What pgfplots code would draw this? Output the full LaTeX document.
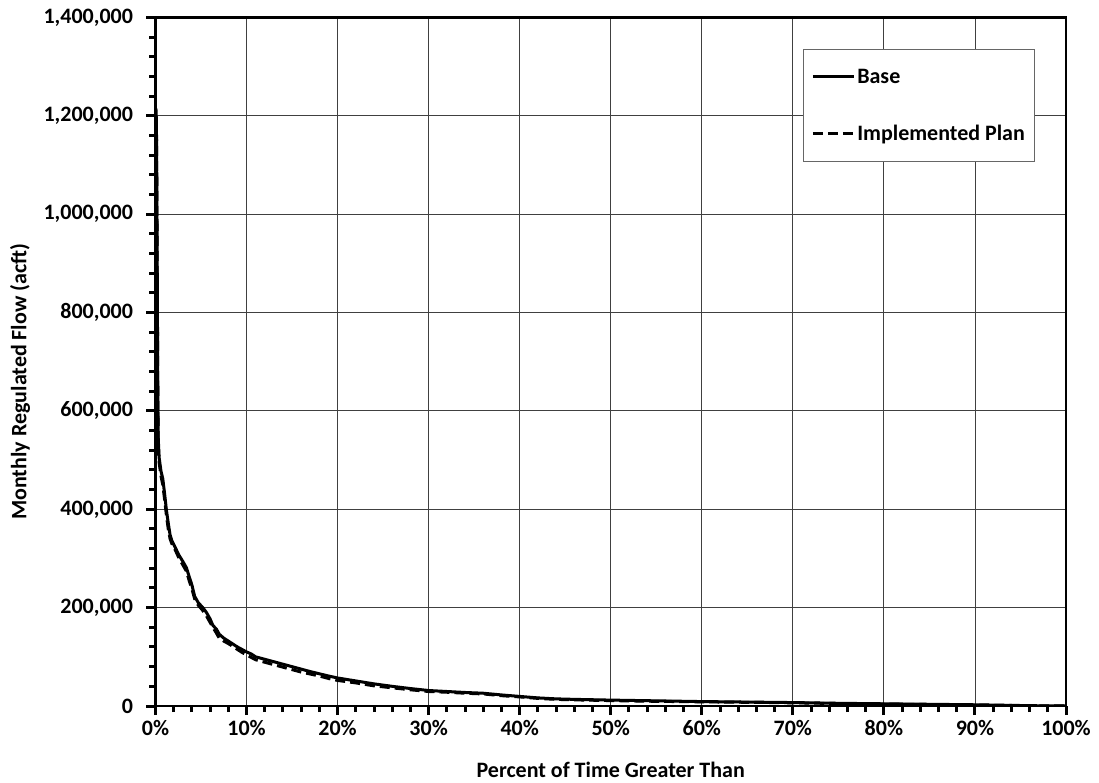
\documentclass[border=0pt]{standalone}
\usepackage{fontspec}
\setmainfont{Carlito}
\usepackage{pgfplots}
\pgfplotsset{compat=1.18}
\pgfplotstableread{
x y
0.05 1215000
0.10 1190000
0.15 1050000
0.20 850000
0.25 650000
0.30 545000
0.40 505000
0.60 478000
0.80 462000
1.00 432000
1.20 398000
1.40 372000
1.60 348000
1.80 336000
2.20 321000
2.60 306000
3.00 294000
3.40 281000
3.70 263000
4.00 246000
4.30 223000
4.70 210000
5.20 200000
5.60 190000
6.00 177000
6.30 164000
6.70 156000
7.00 146000
7.50 138000
8.00 132000
8.50 126000
9.00 120000
9.50 115000
10.0 110000
10.5 106000
11.0 100000
12.0 95000
13.0 90000
14.0 85000
15.0 80000
16.0 75000
17.0 70000
18.0 65500
19.0 61000
20.0 57000
22.0 51000
24.0 45000
26.0 40000
28.0 35500
30.0 31500
32.0 29500
34.0 27500
36.0 26000
38.0 22500
40.0 19500
42.0 16500
44.0 14500
46.0 13500
50.0 12000
55.0 10500
60.0 9000
65.0 8000
70.0 7000
75.0 5500
80.0 4500
85.0 3500
90.0 2500
95.0 1000
98.0 200
100.0 0
}\base
\pgfplotstableread{
x y
0.05 1200000
0.10 1180000
0.15 1040000
0.20 840000
0.25 640000
0.30 530000
0.40 495000
0.60 468000
0.80 450000
1.00 420000
1.20 388000
1.40 360000
1.60 340000
1.80 330000
2.20 316000
2.60 300000
3.00 287000
3.40 274000
3.70 255000
4.00 238000
4.30 218000
4.70 205000
5.20 194000
5.60 183000
6.00 170000
6.30 160000
6.70 148000
7.00 138000
7.50 132000
8.00 127000
8.50 121000
9.00 115000
9.50 109000
10.0 104000
10.5 99000
11.0 94000
12.0 89000
13.0 84000
14.0 79000
15.0 74000
16.0 69000
17.0 65000
18.0 61000
19.0 56000
20.0 52000
22.0 47000
24.0 41000
26.0 37000
28.0 33000
30.0 29500
32.0 28000
34.0 26000
36.0 24500
38.0 21000
40.0 18500
42.0 15500
44.0 13500
46.0 12500
50.0 11000
55.0 9500
60.0 8500
65.0 7500
70.0 6500
75.0 5000
80.0 4000
85.0 3000
90.0 2000
95.0 800
98.0 100
100.0 0
}\plan
\begin{document}
\begin{tikzpicture}
\useasboundingbox (-155.5pt,-76pt) rectangle (943.5pt,706pt);
\begin{axis}[
  at={(0,0)}, anchor=south west,
  scale only axis,
  width=910.5pt, height=688.5pt,
  xmin=0, xmax=100, ymin=0, ymax=1400000,
  xtick={0,10,...,100},
  xticklabels={0\%,10\%,20\%,30\%,40\%,50\%,60\%,70\%,80\%,90\%,100\%},
  ytick={0,200000,...,1400000},
  minor x tick num=4,
  minor y tick num=4,
  xtick pos=bottom, ytick pos=left,
  scaled y ticks=false,
  /pgf/number format/fixed,
  /pgf/number format/1000 sep={,},
  /pgf/number format/assume math mode=true,
  tick label style={font=\fontsize{22}{26}\selectfont\bfseries},
  xticklabel style={yshift=-2pt},
  yticklabel style={xshift=-10pt},
  tick align=outside,
  major tick length=9pt,
  minor tick length=6pt,
  major tick style={black, line width=3pt},
  minor tick style={black, line width=3pt},
  grid=major,
  major grid style={black!75, line width=0.9pt},
  axis line style={line width=2.8pt},
  xlabel={Percent of Time Greater Than},
  ylabel={Monthly Regulated Flow (acft)},
  label style={font=\fontsize{22}{26}\selectfont\bfseries},
  xlabel style={at={(rel axis cs:0.5,0)}, anchor=center, yshift=-64pt},
  ylabel style={at={(rel axis cs:0,0.471)}, anchor=center, yshift=135.5pt},
  legend style={at={(rel axis cs:0.711,0.954)}, anchor=north west,
    draw=black!60, line width=0.8pt, font=\fontsize{22}{26}\selectfont\bfseries,
    inner xsep=8pt, inner ysep=17.5pt, row sep=36pt},
  legend cell align=left,
  legend image code/.code={\draw[#1] (0pt,0pt) -- (41pt,0pt);},
]
\addplot[black, line width=3pt, line join=round] table {\base};
\addlegendentry{Base}
\addplot[black, line width=3pt, dash pattern=on 10pt off 5pt] table {\plan};
\addlegendentry{Implemented Plan}
\end{axis}
\end{tikzpicture}
\end{document}
